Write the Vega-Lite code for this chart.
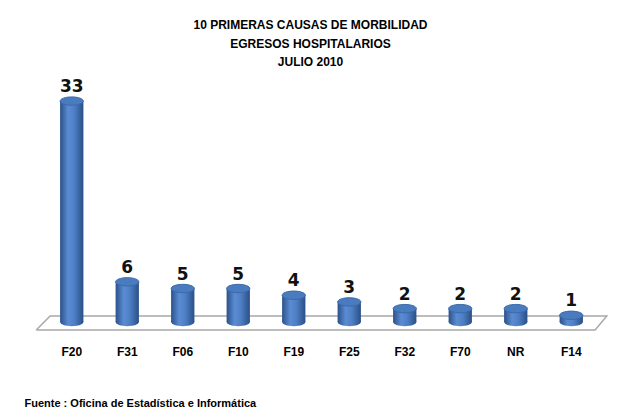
{
  "$schema": "https://vega.github.io/schema/vega-lite/v6.json",
  "width": 555,
  "height": 241,
  "autosize": {"type": "none"},
  "padding": {"left": 44, "top": 81, "right": 30, "bottom": 93},
  "background": "white",
  "config": {"view": {"stroke": null}},
  "title": {
    "text": ["10 PRIMERAS CAUSAS DE MORBILIDAD", "EGRESOS HOSPITALARIOS", "JULIO 2010"],
    "font": "Liberation Sans",
    "fontSize": 12,
    "fontWeight": "bold",
    "color": "#000000",
    "lineHeight": 18.5,
    "offset": 9,
    "dx": -11
  },
  "datasets": {
    "bars": [
      {"causa": "F20", "egresos": 33},
      {"causa": "F31", "egresos": 6},
      {"causa": "F06", "egresos": 5},
      {"causa": "F10", "egresos": 5},
      {"causa": "F19", "egresos": 4},
      {"causa": "F25", "egresos": 3},
      {"causa": "F32", "egresos": 2},
      {"causa": "F70", "egresos": 2},
      {"causa": "NR", "egresos": 2},
      {"causa": "F14", "egresos": 1}
    ],
    "floor": [
      {"k": 0, "px": -0.14, "py": -1.2},
      {"k": 1, "px": 9.93, "py": -1.2},
      {"k": 2, "px": 10.14, "py": 0.9},
      {"k": 3, "px": 0.11, "py": 0.9},
      {"k": 4, "px": -0.14, "py": -1.2}
    ]
  },
  "resolve": {"scale": {"x": "independent"}},
  "layer": [
    {
      "data": {"name": "floor"},
      "mark": {"type": "line", "stroke": "#a8a8a8", "strokeWidth": 1.5, "clip": false},
      "encoding": {
        "x": {"field": "px", "type": "quantitative", "scale": {"domain": [0, 10], "nice": false, "zero": false}, "axis": null},
        "y": {"field": "py", "type": "quantitative", "scale": {"domain": [0, 36], "nice": false}, "axis": null},
        "order": {"field": "k"}
      }
    },
    {
      "data": {"name": "bars"},
      "encoding": {
        "x": {
          "field": "causa", "type": "nominal", "sort": null,
          "scale": {"paddingInner": 0, "paddingOuter": 0},
          "axis": {
            "title": "Fuente : Oficina de Estadística e Informática",
            "titleFont": "Liberation Sans",
            "titleFontSize": 11,
            "titleFontWeight": "bold",
            "titleColor": "#000000",
            "titleAnchor": "start",
            "titleAlign": "left",
            "titleBaseline": "middle",
            "titleX": -20,
            "titleY": 81,
            "labelAngle": 0,
            "labelFont": "Liberation Sans",
            "labelFontSize": 12,
            "labelFontWeight": "bold",
            "labelColor": "#000000",
            "labelPadding": 24,
            "domain": false,
            "ticks": false,
            "grid": false
          }
        },
        "y": {"field": "egresos", "type": "quantitative", "scale": {"domain": [0, 36], "nice": false}, "axis": null}
      },
      "layer": [
        {
          "mark": {
            "type": "point", "filled": true, "size": 540, "opacity": 1, "strokeWidth": 0,
            "shape": "M -1 0 A 1 0.36 0 1 0 1 0 A 1 0.36 0 1 0 -1 0 Z",
            "fill": {"gradient": "linear", "x1": 0, "x2": 1, "y1": 0, "y2": 0,
              "stops": [{"offset": 0, "color": "#2b5189"}, {"offset": 0.35, "color": "#5b8cd3"}, {"offset": 0.6, "color": "#4f80c6"}, {"offset": 1, "color": "#2a4f86"}]}
          },
          "encoding": {"y": {"datum": 0, "type": "quantitative"}}
        },
        {
          "mark": {
            "type": "bar", "width": {"band": 0.42},
            "fill": {"gradient": "linear", "x1": 0, "x2": 1, "y1": 0, "y2": 0,
              "stops": [{"offset": 0, "color": "#2b5189"}, {"offset": 0.35, "color": "#5b8cd3"}, {"offset": 0.6, "color": "#4f80c6"}, {"offset": 1, "color": "#2a4f86"}]}
          }
        },
        {
          "mark": {
            "type": "point", "filled": true, "size": 540, "opacity": 1,
            "shape": "M -1 0 A 1 0.36 0 1 0 1 0 A 1 0.36 0 1 0 -1 0 Z",
            "fill": "#4a7bbf", "stroke": "#3b69aa", "strokeWidth": 1
          }
        },
        {
          "mark": {"type": "text", "dy": -14, "font": "DejaVu Sans", "fontSize": 17, "fontWeight": "bold", "fill": "#111111"},
          "encoding": {"text": {"field": "egresos", "type": "quantitative"}}
        }
      ]
    }
  ]
}
